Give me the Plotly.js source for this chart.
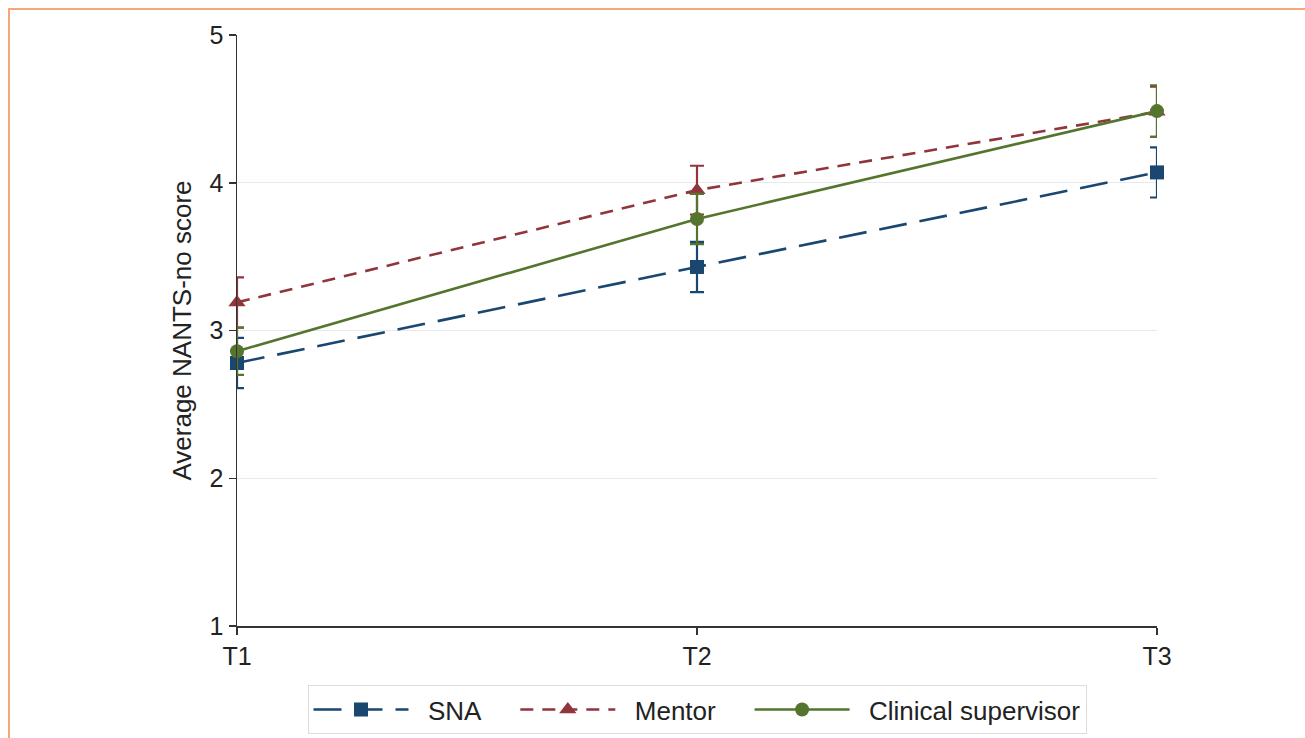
<!DOCTYPE html>
<html>
<head>
<meta charset="utf-8">
<script src="https://cdn.plot.ly/plotly-3.0.1.min.js"></script>
<style>
  html, body { margin: 0; padding: 0; background: #ffffff; }
  #wrap { position: relative; width: 1305px; height: 738px; overflow: hidden; }
  #frame { position: absolute; left: 8px; top: 8px; right: -10px; bottom: -10px;
           border-top: 2px solid #f6a777; border-left: 2px solid #f6a777; pointer-events: none; z-index: 2; }
  #chart { position: absolute; left: 0; top: 0; width: 1305px; height: 738px; }
</style>
</head>
<body>
<div id="wrap">
  <div id="chart"></div>
  <div id="frame"></div>
</div>
<script>
const timepoints = ["T1", "T2", "T3"];
const seriesNames = ["SNA", "Mentor", "Clinical supervisor"];
const snaMean = [2.78, 3.43, 4.07];
const snaCI = [0.17, 0.17, 0.17];
const mentorMean = [3.19, 3.95, 4.48];
const mentorCI = [0.17, 0.165, 0.17];
const supervisorMean = [2.86, 3.755, 4.485];
const supervisorCI = [0.16, 0.17, 0.175];
const yTicks = [1, 2, 3, 4, 5];

const colors = { sna: "#1a476f", mentor: "#90353b", sup: "#55752f" };
const NB = "\u00a0";
const lead = NB + NB;
const trail = NB + NB + NB + NB;

function series(name, y, ci, color, dash, symbol, size) {
  return {
    type: "scatter", mode: "lines+markers", name: name,
    x: timepoints, y: y, cliponaxis: false,
    line: { color: color, width: 2.6, dash: dash },
    marker: { color: color, symbol: symbol, size: size },
    error_y: { type: "data", array: ci, visible: true, color: color, thickness: 2.2, width: 7 }
  };
}

const data = [
  series(lead + seriesNames[0] + trail, snaMean, snaCI, colors.sna, "28px,13px", "square", 14),
  series(lead + seriesNames[1] + trail, mentorMean, mentorCI, colors.mentor, "13px,9px", "triangle-up", 15),
  series(lead + seriesNames[2], supervisorMean, supervisorCI, colors.sup, "solid", "circle", 14)
];

const layout = {
  width: 1305, height: 738,
  margin: { l: 237, r: 148, t: 35, b: 112, autoexpand: false },
  paper_bgcolor: "rgba(0,0,0,0)", plot_bgcolor: "#ffffff",
  font: { family: "Liberation Sans, Arial, sans-serif", size: 25, color: "#222" },
  showlegend: true,
  xaxis: {
    type: "category", range: [0, 2], showgrid: false, zeroline: false,
    showline: true, linecolor: "#333", linewidth: 1.5,
    ticks: "outside", ticklen: 7, tickcolor: "#333", tickwidth: 1.5,
    tickfont: { size: 25, color: "#222" }, fixedrange: true
  },
  yaxis: {
    range: [1, 5], tickvals: yTicks, ticktext: yTicks.map(String),
    showgrid: true, gridcolor: "#e6eaec", gridwidth: 1, zeroline: false,
    showline: true, linecolor: "#333", linewidth: 1.5,
    ticks: "outside", ticklen: 7, tickcolor: "#333", tickwidth: 1.5,
    tickfont: { size: 25, color: "#222" },
    title: { text: "Average NANTS-no score", font: { size: 26, color: "#222" }, standoff: 10 },
    fixedrange: true
  },
  legend: {
    orientation: "h", x: 0.5, xanchor: "center", y: -0.1, yanchor: "top",
    bordercolor: "#dddddd", borderwidth: 1, bgcolor: "#ffffff",
    font: { size: 26, color: "#222" }, itemwidth: 95, tracegroupgap: 0
  }
};

Plotly.newPlot("chart", data, layout, { displayModeBar: false, staticPlot: true });
</script>
</body>
</html>
